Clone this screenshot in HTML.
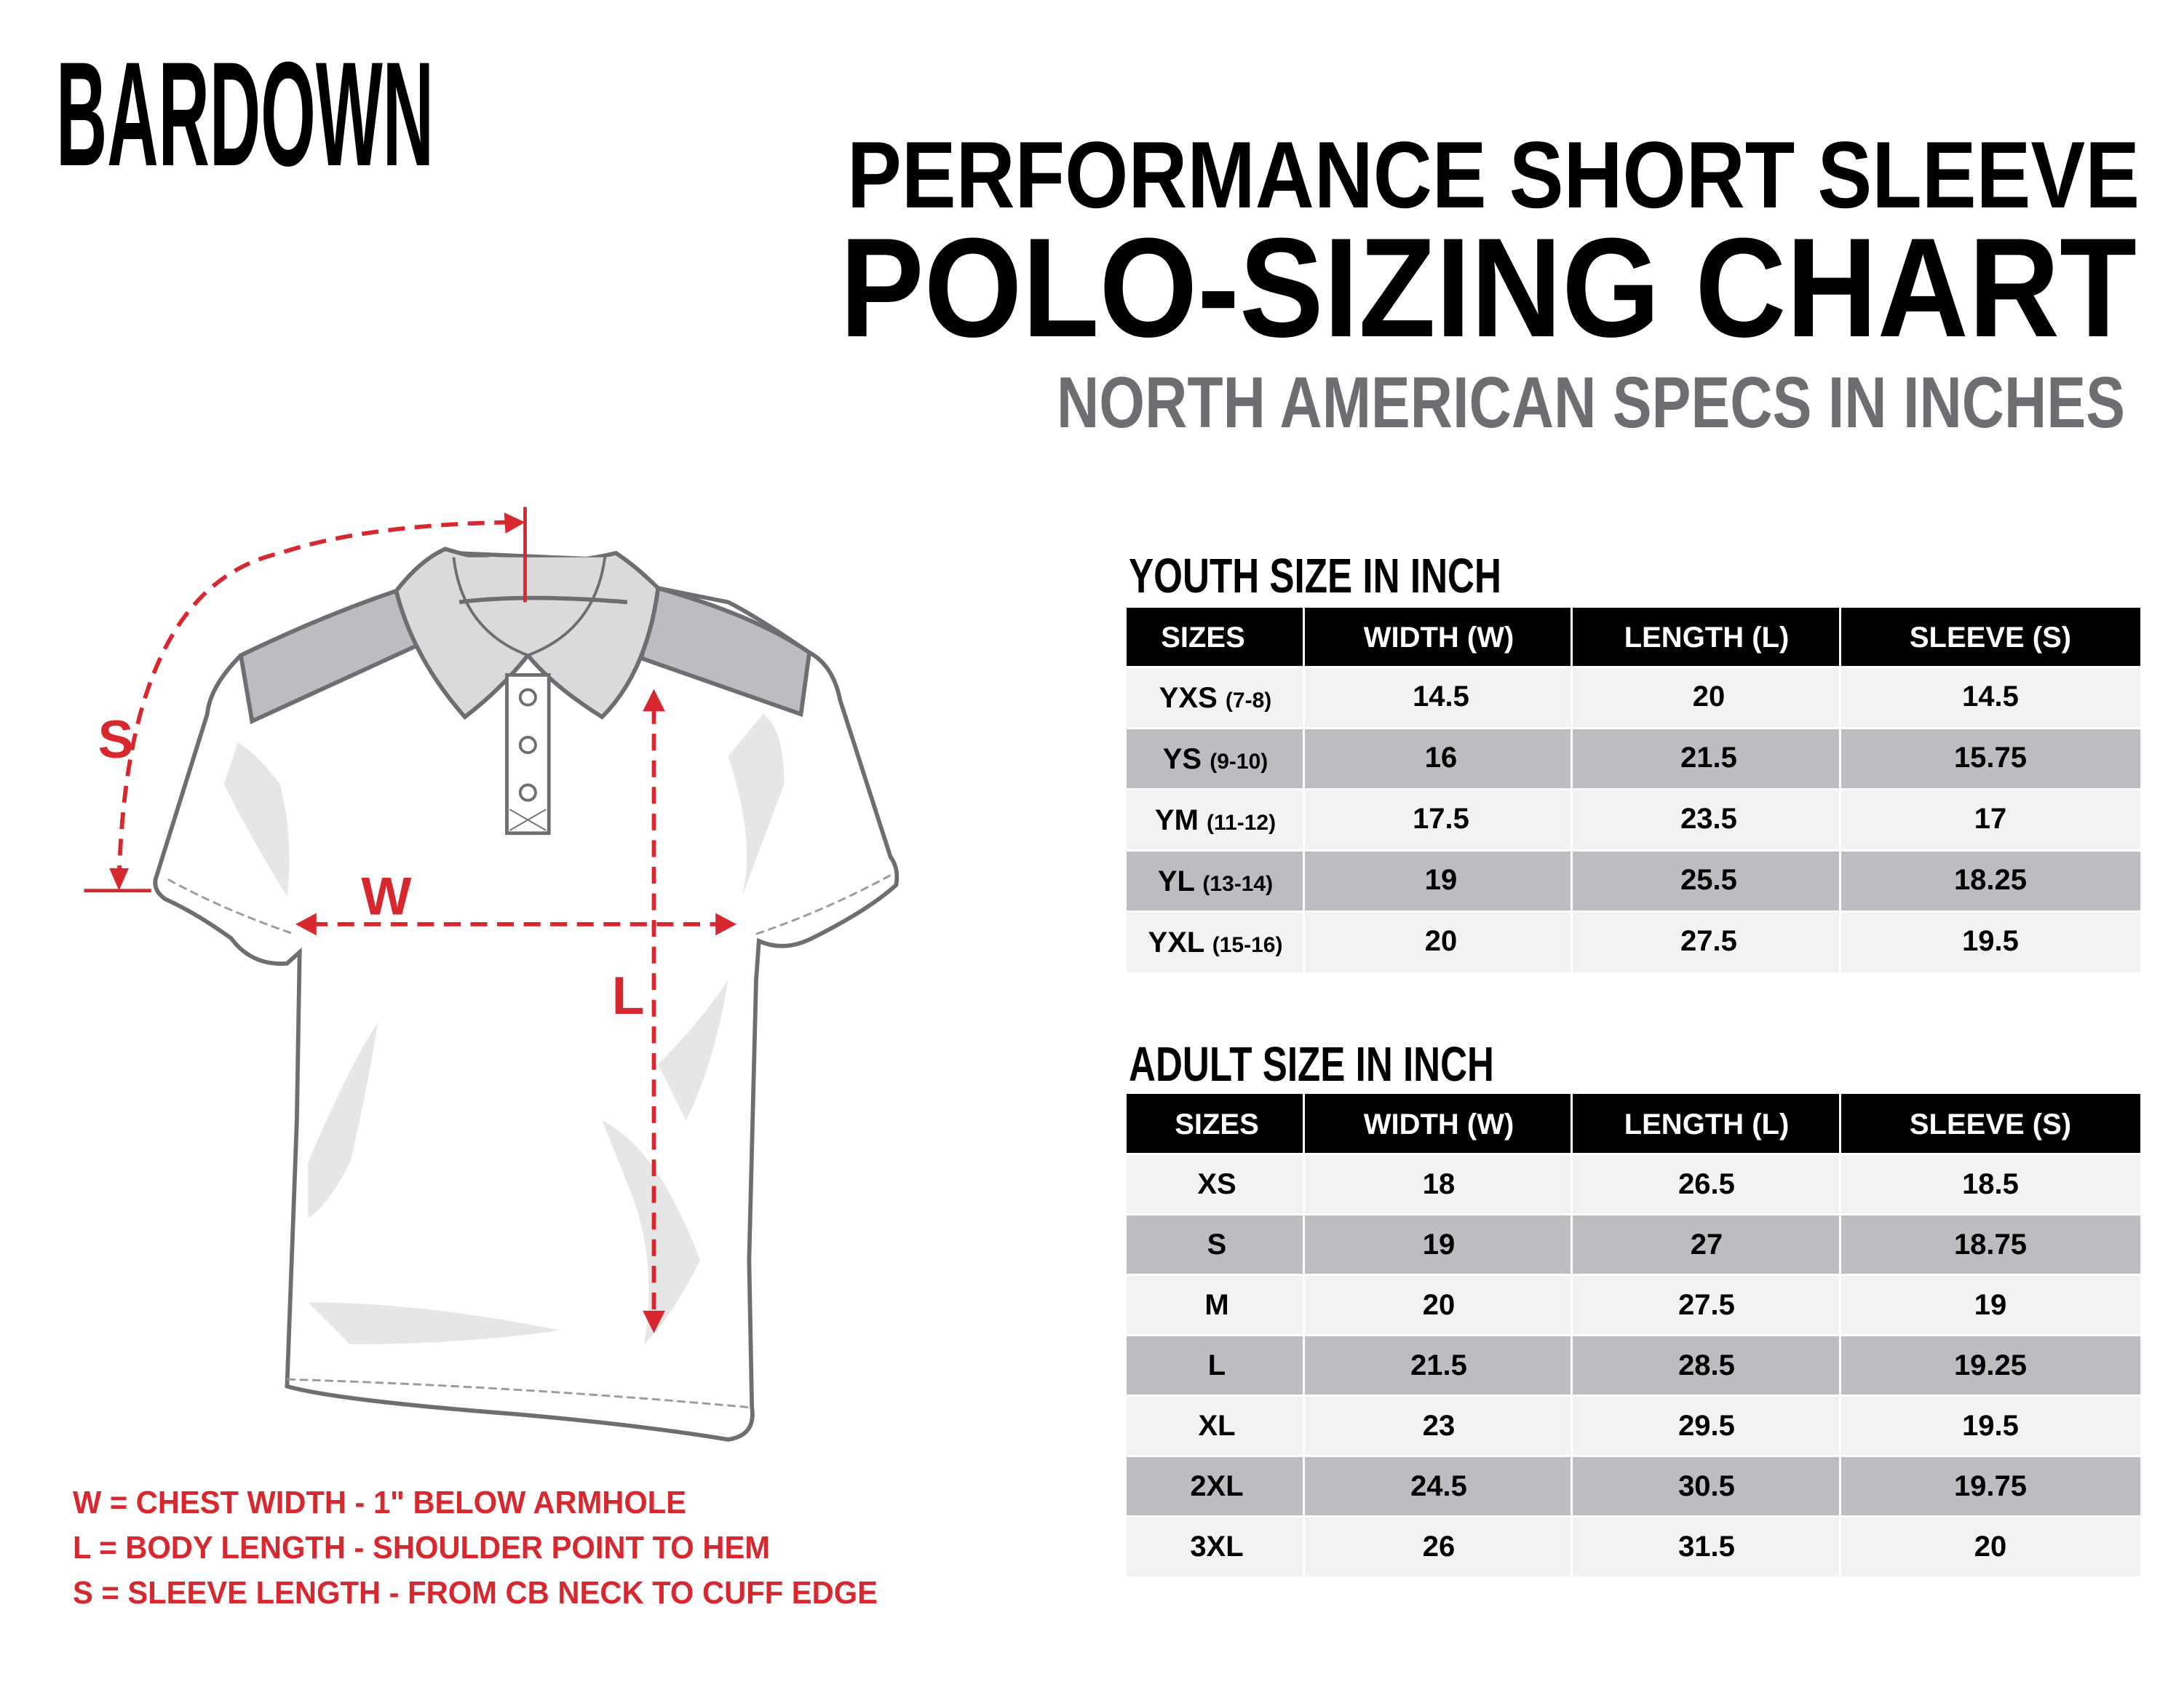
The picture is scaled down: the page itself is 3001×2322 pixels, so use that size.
<!DOCTYPE html>
<html><head><meta charset="utf-8"><style>
html,body{margin:0;padding:0;background:#fff;}
svg{display:block;}
text{font-family:"Liberation Sans",sans-serif;font-weight:bold;}
</style></head><body>
<svg width="3001" height="2322" viewBox="0 0 3001 2322" xmlns="http://www.w3.org/2000/svg">
<rect width="3001" height="2322" fill="#fff"/>
<text x="77" y="227" font-size="204" textLength="519" lengthAdjust="spacingAndGlyphs">BARDOWN</text>
<text x="1164" y="285" font-size="130" textLength="1776" lengthAdjust="spacingAndGlyphs">PERFORMANCE SHORT SLEEVE</text>
<text x="1154" y="462" font-size="194" textLength="1782" lengthAdjust="spacingAndGlyphs">POLO-SIZING CHART</text>
<text x="1452" y="587" font-size="99" fill="#6d6e71" textLength="1468" lengthAdjust="spacingAndGlyphs">NORTH AMERICAN SPECS IN INCHES</text>

<text x="1551" y="814" font-size="67" textLength="512" lengthAdjust="spacingAndGlyphs">YOUTH SIZE IN INCH</text>
<text x="1551" y="1485" font-size="67" textLength="502" lengthAdjust="spacingAndGlyphs">ADULT SIZE IN INCH</text>

<!-- Youth table -->
<g>
<rect x="1548" y="835" width="1393" height="81" fill="#000"/>
<rect x="1548" y="916" width="1393" height="84" fill="#f2f2f2"/>
<rect x="1548" y="1000" width="1393" height="84" fill="#bcbdc0"/>
<rect x="1548" y="1084" width="1393" height="84" fill="#f2f2f2"/>
<rect x="1548" y="1168" width="1393" height="84" fill="#bcbdc0"/>
<rect x="1548" y="1252" width="1393" height="84" fill="#f2f2f2"/>
<g fill="#fff">
<rect x="1790" y="835" width="3" height="501"/><rect x="2158" y="835" width="3" height="501"/><rect x="2527" y="835" width="3" height="501"/>
<rect x="1548" y="915" width="1393" height="3"/><rect x="1548" y="999" width="1393" height="3"/><rect x="1548" y="1083" width="1393" height="3"/><rect x="1548" y="1167" width="1393" height="3"/><rect x="1548" y="1251" width="1393" height="3"/>
</g>
<g font-size="40" text-anchor="middle" fill="#fff">
<text x="1653" y="889">SIZES</text><text x="1977" y="889">WIDTH (W)</text><text x="2345" y="889">LENGTH (L)</text><text x="2735" y="889">SLEEVE (S)</text>
</g>
<g font-size="40" text-anchor="middle" fill="#000">
<text x="1670" y="972">YXS <tspan font-size="30">(7-8)</tspan></text><text x="1980" y="970">14.5</text><text x="2348" y="970">20</text><text x="2735" y="970">14.5</text>
<text x="1670" y="1056">YS <tspan font-size="30">(9-10)</tspan></text><text x="1980" y="1054">16</text><text x="2348" y="1054">21.5</text><text x="2735" y="1054">15.75</text>
<text x="1670" y="1140">YM <tspan font-size="30">(11-12)</tspan></text><text x="1980" y="1138">17.5</text><text x="2348" y="1138">23.5</text><text x="2735" y="1138">17</text>
<text x="1670" y="1224">YL <tspan font-size="30">(13-14)</tspan></text><text x="1980" y="1222">19</text><text x="2348" y="1222">25.5</text><text x="2735" y="1222">18.25</text>
<text x="1670" y="1308">YXL <tspan font-size="30">(15-16)</tspan></text><text x="1980" y="1306">20</text><text x="2348" y="1306">27.5</text><text x="2735" y="1306">19.5</text>
</g>
</g>

<!-- Adult table -->
<g>
<rect x="1548" y="1503" width="1393" height="82" fill="#000"/>
<rect x="1548" y="1585" width="1393" height="83" fill="#f2f2f2"/>
<rect x="1548" y="1668" width="1393" height="83" fill="#bcbdc0"/>
<rect x="1548" y="1751" width="1393" height="83" fill="#f2f2f2"/>
<rect x="1548" y="1834" width="1393" height="83" fill="#bcbdc0"/>
<rect x="1548" y="1917" width="1393" height="83" fill="#f2f2f2"/>
<rect x="1548" y="2000" width="1393" height="83" fill="#bcbdc0"/>
<rect x="1548" y="2083" width="1393" height="83" fill="#f2f2f2"/>
<g fill="#fff">
<rect x="1790" y="1503" width="3" height="663"/><rect x="2158" y="1503" width="3" height="663"/><rect x="2527" y="1503" width="3" height="663"/>
<rect x="1548" y="1584" width="1393" height="3"/><rect x="1548" y="1667" width="1393" height="3"/><rect x="1548" y="1750" width="1393" height="3"/><rect x="1548" y="1833" width="1393" height="3"/><rect x="1548" y="1916" width="1393" height="3"/><rect x="1548" y="1999" width="1393" height="3"/><rect x="1548" y="2082" width="1393" height="3"/>
</g>
<g font-size="40" text-anchor="middle" fill="#fff">
<text x="1672" y="1558">SIZES</text><text x="1977" y="1558">WIDTH (W)</text><text x="2345" y="1558">LENGTH (L)</text><text x="2735" y="1558">SLEEVE (S)</text>
</g>
<g font-size="40" text-anchor="middle" fill="#000">
<text x="1672" y="1640">XS</text><text x="1977" y="1640">18</text><text x="2345" y="1640">26.5</text><text x="2735" y="1640">18.5</text>
<text x="1672" y="1723">S</text><text x="1977" y="1723">19</text><text x="2345" y="1723">27</text><text x="2735" y="1723">18.75</text>
<text x="1672" y="1806">M</text><text x="1977" y="1806">20</text><text x="2345" y="1806">27.5</text><text x="2735" y="1806">19</text>
<text x="1672" y="1889">L</text><text x="1977" y="1889">21.5</text><text x="2345" y="1889">28.5</text><text x="2735" y="1889">19.25</text>
<text x="1672" y="1972">XL</text><text x="1977" y="1972">23</text><text x="2345" y="1972">29.5</text><text x="2735" y="1972">19.5</text>
<text x="1672" y="2055">2XL</text><text x="1977" y="2055">24.5</text><text x="2345" y="2055">30.5</text><text x="2735" y="2055">19.75</text>
<text x="1672" y="2138">3XL</text><text x="1977" y="2138">26</text><text x="2345" y="2138">31.5</text><text x="2735" y="2138">20</text>
</g>
</g>

<!-- legend -->
<g fill="#d7282f" font-size="44">
<text x="100" y="2079" textLength="843" lengthAdjust="spacingAndGlyphs">W = CHEST WIDTH - 1" BELOW ARMHOLE</text>
<text x="100" y="2141" textLength="958" lengthAdjust="spacingAndGlyphs">L = BODY LENGTH - SHOULDER POINT TO HEM</text>
<text x="100" y="2203" textLength="1106" lengthAdjust="spacingAndGlyphs">S = SLEEVE LENGTH - FROM CB NECK TO CUFF EDGE</text>
</g>

<!-- shirt (thumbnail coordinates) -->
<g transform="scale(1.924)">
<path d="M172,468 Q150,490 148,510 L112,625 Q108,635 118,642 Q140,652 165,670 Q180,690 205,688 L214,680 L212,800 L205,990 Q240,1000 370,1010 Q460,1018 520,1028 Q540,1025 537,1005 L535,900 L540,700 L542,672 Q560,680 580,670 Q620,650 640,632 Q642,620 636,612 L600,500 Q595,475 578,466 Q540,440 520,430 L470,420 L440,400 L325,395 L283,422 Q230,440 172,468 Z" fill="#fff" stroke="#6d6e71" stroke-width="3"/>
<g fill="#e6e6e6">
<path d="M160,560 Q180,600 205,640 Q210,600 200,560 Q185,540 170,530 Z"/>
<path d="M520,540 Q540,600 530,640 Q545,600 560,560 Q560,520 545,510 Z"/>
<path d="M220,830 Q250,760 270,730 Q260,790 250,830 Q235,860 220,870 Z"/>
<path d="M430,800 Q470,820 500,900 Q480,940 460,960 Q470,900 450,850 Z"/>
<path d="M220,930 Q300,930 400,950 Q330,960 250,960 Z"/>
<path d="M470,760 Q500,730 520,700 Q510,760 490,800 Z"/>
</g>
<path d="M172,468 Q230,440 283,422 L300,460 L180,515 Z" fill="#bcbdc0" stroke="#6d6e71" stroke-width="3"/>
<path d="M470,420 Q540,440 578,466 L572,510 L458,470 Z" fill="#bcbdc0" stroke="#6d6e71" stroke-width="3"/>
<path d="M283,422 Q300,400 318,392 Q375,410 440,395 Q455,405 470,420 Q462,480 430,512 Q395,490 377,468 Q358,492 332,512 Q295,470 283,422 Z" fill="#d9dbdb" stroke="#6d6e71" stroke-width="3"/>
<path d="M324,398 Q330,450 377,468 Q425,450 432,398" fill="#d9dbdb" stroke="#6d6e71" stroke-width="2"/>
<path d="M328,430 Q375,424 448,430" fill="none" stroke="#6d6e71" stroke-width="3"/>
<rect x="362" y="482" width="30" height="113" fill="#fff" stroke="#6d6e71" stroke-width="2.5"/>
<g fill="#fff" stroke="#6d6e71" stroke-width="2"><circle cx="377" cy="498" r="5.5"/><circle cx="377" cy="532" r="5.5"/><circle cx="377" cy="566" r="5.5"/></g>
<path d="M364,578 L390,593 M390,578 L364,593" stroke="#6d6e71" stroke-width="1"/>
<path d="M120,628 Q160,650 210,667 M540,667 Q590,650 636,625" fill="none" stroke="#9a9b9d" stroke-width="1.5" stroke-dasharray="6 3"/>
<path d="M205,985 Q370,990 535,1005" fill="none" stroke="#9a9b9d" stroke-width="1.5" stroke-dasharray="6 3"/>
<g fill="none" stroke="#d7282f" stroke-width="3" stroke-dasharray="12 7">
<path d="M85,630 Q90,420 200,395 Q260,375 362,373"/>
<path d="M222,660 L515,660"/>
<path d="M467,505 L467,940"/>
</g>
<g stroke="#d7282f" stroke-width="2.5"><line x1="375" y1="362" x2="375" y2="430"/><line x1="60" y1="636" x2="108" y2="636"/></g>
<g fill="#d7282f">
<path d="M375,373 L360,366 L361,381 Z"/>
<path d="M85,636 L78,620 L92,620 Z"/>
<path d="M211,660 L226,652 L226,668 Z"/>
<path d="M526,660 L511,652 L511,668 Z"/>
<path d="M467,492 L459,508 L475,508 Z"/>
<path d="M467,952 L459,936 L475,936 Z"/>
</g>
<g fill="#d7282f" font-size="38"><text x="70" y="541">S</text><text x="258" y="653">W</text><text x="437" y="724">L</text></g>
</g>
</svg>
</body></html>
